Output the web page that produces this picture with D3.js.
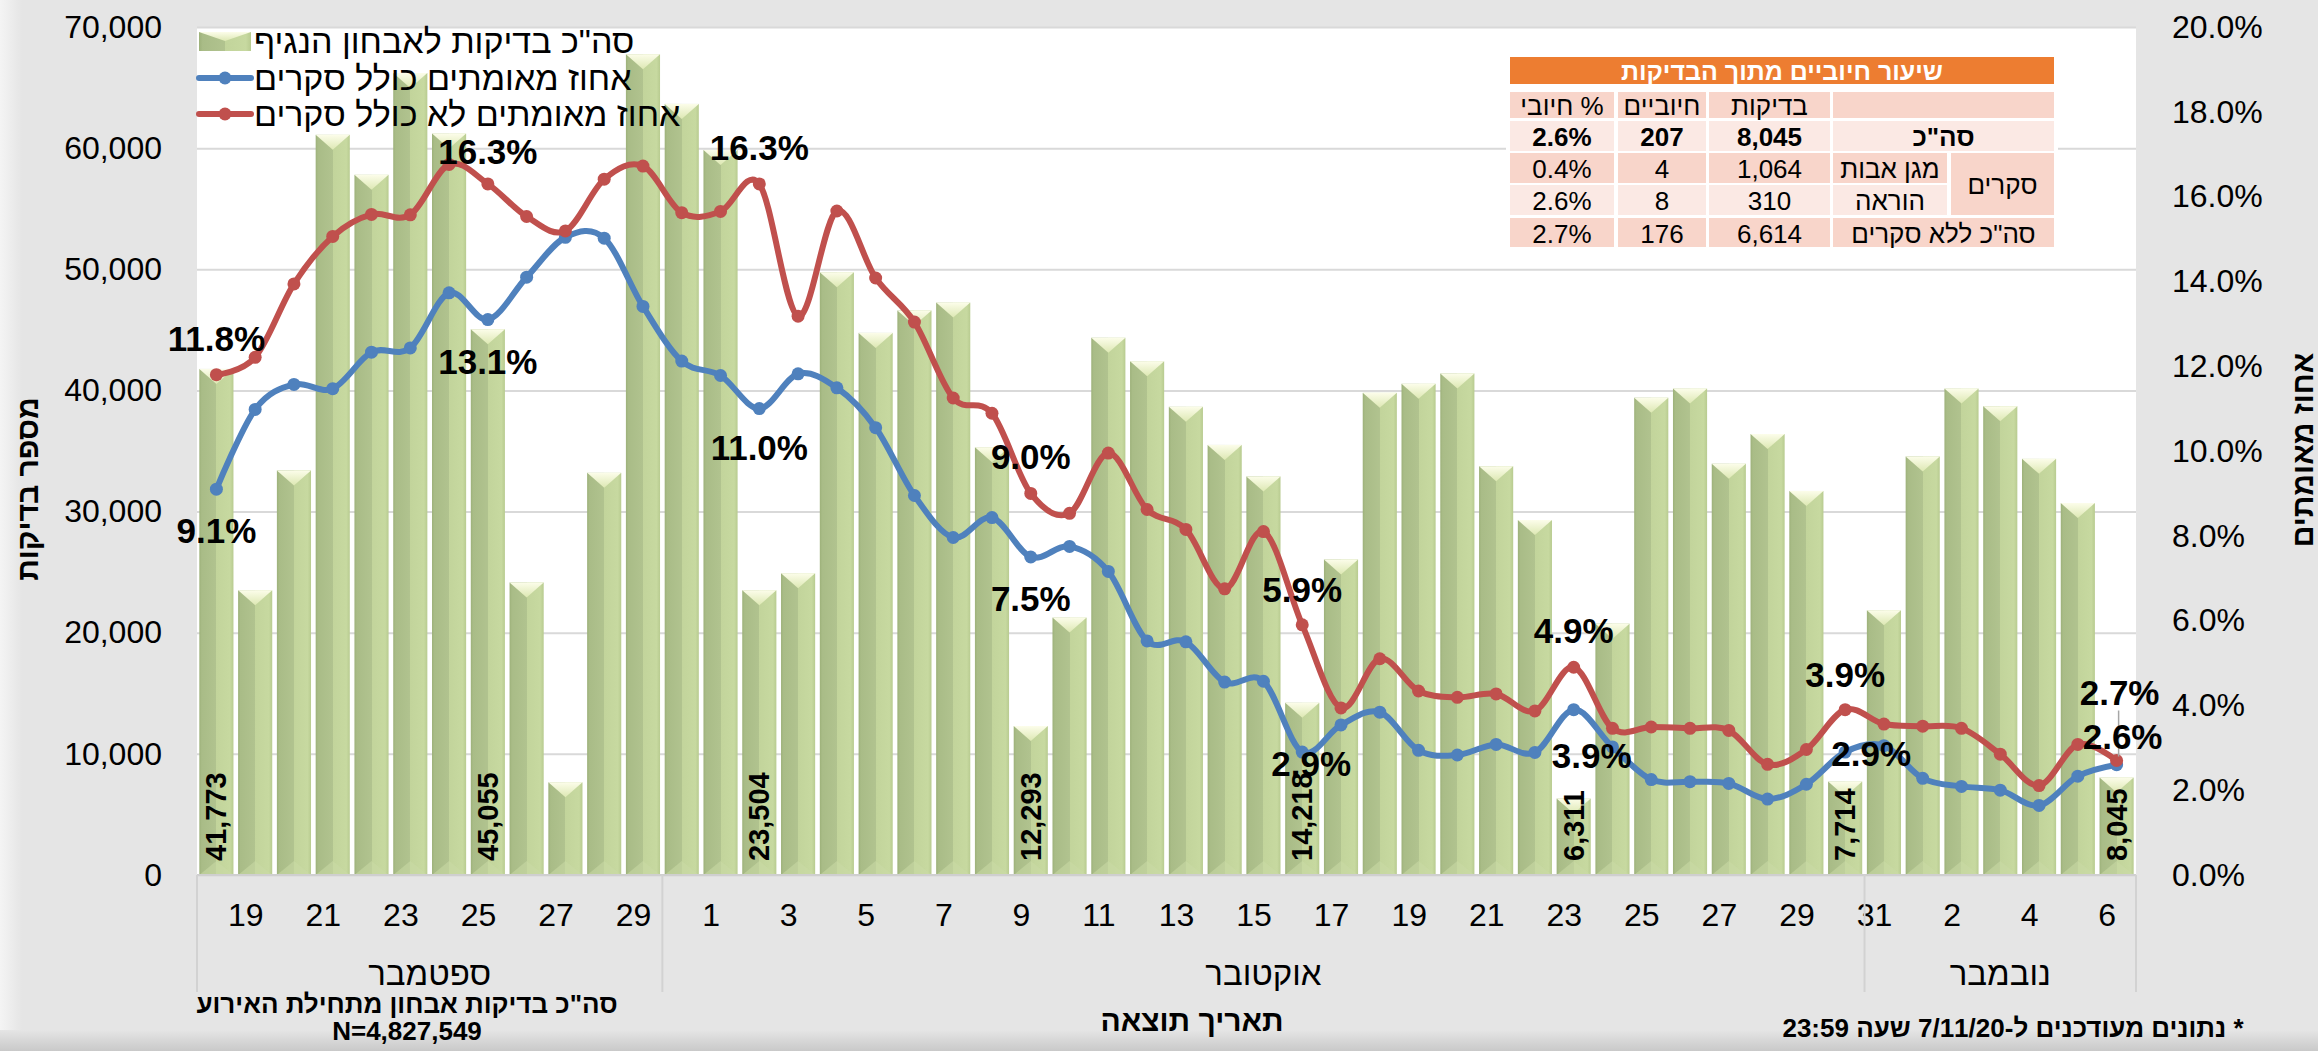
<!DOCTYPE html>
<html>
<head>
<meta charset="utf-8">
<script src="https://cdn.jsdelivr.net/npm/d3@7"></script>
<style>
  html, body { margin: 0; padding: 0; background: #e5e5e5; }
  svg { display: block; }
  text { font-family: "Liberation Sans", Arial, "DejaVu Sans", sans-serif; fill: #000; }
</style>
</head>
<body>
<script>
// ---- data ----
var sepDays = [19, 20, 21, 22, 23, 24, 25, 26, 27, 28, 29, 30];
var octDays = [1, 2, 3, 4, 5, 6, 7, 8, 9, 10, 11, 12, 13, 14, 15, 16, 17, 18, 19, 20,
               21, 22, 23, 24, 25, 26, 27, 28, 29, 30, 31];
var novDays = [1, 2, 3, 4, 5, 6, 7];
var monthNames = ["ספטמבר", "אוקטובר", "נובמבר"];

// total tests per day
var tests = [41773, 23500, 33400, 61100, 57800, 66200, 61200, 45055, 24150, 7650,
             33200, 67750, 63650, 59850, 23504, 24900, 49750, 44750, 46600, 47250,
             35300, 12293, 21250, 44350, 42400, 38650, 35500, 32900, 14218, 26050,
             39800, 40550, 41400, 33750, 29300, 6311, 20750, 39400, 40150, 33950,
             36400, 31700, 7714, 21850, 34550, 40150, 38700, 34350, 30700, 8045];

// % positive incl. school surveys (blue)
var pctWithSurveys = [9.1, 10.98, 11.57, 11.47, 12.33, 12.43, 13.73, 13.1, 14.1, 15.04,
                      15.02, 13.41, 12.12, 11.78, 11.0, 11.82, 11.49, 10.55, 8.95, 7.96,
                      8.43, 7.5, 7.75, 7.16, 5.52, 5.5, 4.55, 4.57, 2.9, 3.54,
                      3.84, 2.94, 2.83, 3.08, 2.89, 3.9, 3.02, 2.25, 2.2, 2.16,
                      1.79, 2.14, 2.9, 3.05, 2.28, 2.09, 2.0, 1.64, 2.33, 2.6];

// % positive excl. school surveys (red)
var pctNoSurveys = [11.8, 12.21, 13.94, 15.06, 15.58, 15.57, 16.76, 16.3, 15.53, 15.19,
                    16.41, 16.72, 15.62, 15.65, 16.3, 13.18, 15.66, 14.08, 13.04, 11.25,
                    10.89, 9.0, 8.53, 9.95, 8.62, 8.15, 6.75, 8.1, 5.9, 3.94,
                    5.1, 4.34, 4.19, 4.27, 3.87, 4.9, 3.46, 3.49, 3.46, 3.41,
                    2.61, 2.96, 3.9, 3.56, 3.51, 3.46, 2.85, 2.11, 3.08, 2.7];

var leftTicks = [0, 10000, 20000, 30000, 40000, 50000, 60000, 70000];
var rightTicks = [0, 2, 4, 6, 8, 10, 12, 14, 16, 18, 20];

// table of the last day
var tableTitle = "שיעור חיוביים מתוך הבדיקות";
var tableHead = ["% חיובי", "חיוביים", "בדיקות", ""];
var tableRowNames = ['סה"כ', "מגן אבות", "הוראה", 'סה"כ ללא סקרים'];
var tableTests = [8045, 1064, 310, 6614];
var tablePositives = [207, 4, 8, 176];
var totalSinceStart = 4827549;

var legendNames = ['סה"כ בדיקות לאבחון הנגיף', "אחוז מאומתים כולל סקרים", "אחוז מאומתים לא כולל סקרים"];

// ---- layout ----
var W = 2318, H = 1051;
var plot = {left: 197, right: 2136, top: 27, bottom: 875};
var blue = "#4f81bd", red = "#c0504d";

var days = sepDays.concat(octDays, novDays);
var idx = d3.range(days.length);

var svg = d3.select("body").append("svg")
    .attr("width", W)
    .attr("height", H);

var defs = svg.append("defs");
function grad(id, x2, y2, stops) {
  var g = defs.append("linearGradient").attr("id", id)
    .attr("x1", 0).attr("y1", 0).attr("x2", x2).attr("y2", y2);
  stops.forEach(function(s) {
    g.append("stop").attr("offset", s[0]).attr("stop-color", s[1]);
  });
}
grad("barGrad", 1, 0, [[0, "#9db17a"], [0.07, "#a9bc87"], [0.5, "#b1c38f"], [0.5, "#c2d49b"], [0.9, "#c7d9a0"], [1, "#b8cb90"]]);
grad("capGrad", 0, 1, [[0, "#fcfdea"], [1, "#dde8b3"]]);
grad("bottomGrad", 0, 1, [[0, "#e5e5e5"], [1, "#c9c9c9"]]);
grad("leftGrad", 1, 0, [[0, "#f4f4f4"], [1, "#e5e5e5"]]);

// background
svg.append("rect").attr("width", W).attr("height", H).attr("fill", "#e5e5e5");
svg.append("rect").attr("x", 0).attr("y", 0).attr("width", 22).attr("height", H).attr("fill", "url(#leftGrad)");
svg.append("rect").attr("x", 0).attr("y", 1030).attr("width", W).attr("height", 21).attr("fill", "url(#bottomGrad)");

// plot area
svg.append("rect")
  .attr("x", plot.left).attr("y", plot.top)
  .attr("width", plot.right - plot.left).attr("height", plot.bottom - plot.top)
  .attr("fill", "#fff");

// scales
var x = d3.scaleBand().domain(idx).range([plot.left, plot.right]).paddingInner(0.12).paddingOuter(0.06);
var bw = x.bandwidth();
var cx = function(i) { return x(i) + bw / 2; };
var boundary = function(i) { return x(i) - x.step() * 0.06; };
var yL = d3.scaleLinear().domain([0, 70000]).range([plot.bottom, plot.top]);
var yR = d3.scaleLinear().domain([0, 20]).range([plot.bottom, plot.top]);

// gridlines
svg.append("g")
  .attr("transform", "translate(" + plot.left + ",0)")
  .call(d3.axisLeft(yL).tickValues(leftTicks).tickSize(-(plot.right - plot.left)).tickFormat(""))
  .call(function(g) { g.select(".domain").remove(); })
  .selectAll("line").attr("stroke", "#d9d9d9").attr("stroke-width", 2);

// left axis
var axL = svg.append("g")
  .attr("transform", "translate(" + plot.left + ",0)")
  .call(d3.axisLeft(yL).tickValues(leftTicks).tickSize(0).tickPadding(35).tickFormat(d3.format(",")));
axL.select(".domain").remove();
axL.selectAll("text").attr("font-size", 32).attr("font-family", "Liberation Sans, Arial, sans-serif").attr("fill", "#1a1a1a");

// right axis
var axR = svg.append("g")
  .attr("transform", "translate(" + plot.right + ",0)")
  .call(d3.axisRight(yR).tickValues(rightTicks).tickSize(0).tickPadding(36)
    .tickFormat(function(d) { return d.toFixed(1) + "%"; }));
axR.select(".domain").remove();
axR.selectAll("text").attr("font-size", 32).attr("font-family", "Liberation Sans, Arial, sans-serif").attr("fill", "#1a1a1a");

// bars
var bars = svg.append("g").selectAll("g").data(tests).join("g");
bars.append("rect")
  .attr("x", function(d, i) { return x(i); })
  .attr("y", function(d) { return yL(d); })
  .attr("width", bw)
  .attr("height", function(d) { return yL(0) - yL(d); })
  .attr("fill", "url(#barGrad)");
bars.append("path")
  .attr("d", function(d, i) {
    var x0 = x(i), t = yL(d);
    return "M" + x0 + "," + t + "L" + (x0 + bw) + "," + t + "L" + (x0 + bw / 2) + "," + (t + 15) + "Z";
  })
  .attr("fill", "url(#capGrad)");
bars.append("path")
  .attr("d", function(d, i) {
    var x0 = x(i), b = yL(0);
    return "M" + x0 + "," + b + "L" + (x0 + bw / 2) + "," + (b - 14) + "L" + (x0 + bw) + "," + b + "Z";
  })
  .attr("fill", "#cadba5").attr("opacity", 0.55);

// baseline
svg.append("line")
  .attr("x1", plot.left).attr("x2", plot.right)
  .attr("y1", plot.bottom).attr("y2", plot.bottom)
  .attr("stroke", "#cfcfcf").attr("stroke-width", 2);

// x labels: every 2nd day
svg.append("g").selectAll("text")
  .data(idx.filter(function(i) { return i % 2 === 0; }))
  .join("text")
    .attr("x", function(i) { return cx(i) + x.step() / 2 + 10; })
    .attr("y", 915)
    .attr("text-anchor", "middle")
    .attr("dominant-baseline", "central")
    .attr("font-size", 32)
    .attr("fill", "#1a1a1a")
    .text(function(i) { return days[i]; });

// month groups
var monthStart = [0, sepDays.length, sepDays.length + octDays.length, days.length];
svg.append("g").selectAll("line")
  .data(monthStart)
  .join("line")
    .attr("x1", function(s) { return s < days.length ? boundary(s) : plot.right; })
    .attr("x2", function(s) { return s < days.length ? boundary(s) : plot.right; })
    .attr("y1", plot.bottom).attr("y2", 992)
    .attr("stroke", "#d2d2d2").attr("stroke-width", 2);
svg.append("g").selectAll("text")
  .data(monthNames)
  .join("text")
    .attr("x", function(m, k) {
      var a = boundary(monthStart[k]);
      var b = monthStart[k + 1] < days.length ? boundary(monthStart[k + 1]) : plot.right;
      return (a + b) / 2;
    })
    .attr("y", 973)
    .attr("text-anchor", "middle")
    .attr("dominant-baseline", "central")
    .attr("font-size", 33)
    .attr("fill", "#1a1a1a")
    .text(function(m) { return m; });

// lines
var line = d3.line()
  .x(function(d, i) { return cx(i); })
  .y(function(d) { return yR(d); })
  .curve(d3.curveCardinal.tension(0));

[[pctWithSurveys, blue], [pctNoSurveys, red]].forEach(function(s) {
  svg.append("path").datum(s[0])
    .attr("d", line)
    .attr("fill", "none")
    .attr("stroke", s[1])
    .attr("stroke-width", 6)
    .attr("stroke-linecap", "round");
  svg.append("g").selectAll("circle").data(s[0]).join("circle")
    .attr("cx", function(d, i) { return cx(i); })
    .attr("cy", function(d) { return yR(d); })
    .attr("r", 6.5)
    .attr("fill", s[1]);
});

// weekly data labels (every 7th day)
var labeled = idx.filter(function(i) { return i % 7 === 0; });
// nudges [dx, dy] for each labelled point
var redNudge = [[0, -36], [0, -32], [0, -36], [0, -37], [0, -35], [0, -37], [0, -35], [3, -68]];
var blueNudge = [[0, 41], [0, 42], [0, 39], [0, 41], [9, 11], [18, 46], [26, 1], [6, -28]];
var fmtPct = function(v) { return v.toFixed(1) + "%"; };

// leader line for the last label
var last = days.length - 1;
svg.append("line")
  .attr("x1", cx(last) + 2).attr("x2", cx(last) + 2)
  .attr("y1", yR(pctNoSurveys[last]) + redNudge[7][1] + 18)
  .attr("y2", yR(pctNoSurveys[last]) - 4)
  .attr("stroke", "#a6a6a6").attr("stroke-width", 1.5);

labeled.forEach(function(i, k) {
  [[pctNoSurveys, redNudge], [pctWithSurveys, blueNudge]].forEach(function(s) {
    svg.append("text")
      .attr("x", cx(i) + s[1][k][0])
      .attr("y", yR(s[0][i]) + s[1][k][1])
      .attr("text-anchor", "middle")
      .attr("dominant-baseline", "central")
      .attr("font-weight", "bold")
      .attr("font-size", 35)
      .text(fmtPct(s[0][i]));
  });
  svg.append("text")
    .attr("transform", "translate(" + cx(i) + "," + (plot.bottom - 14) + ") rotate(-90)")
    .attr("text-anchor", "start")
    .attr("dominant-baseline", "central")
    .attr("font-weight", "bold")
    .attr("font-size", 29)
    .text(d3.format(",")(tests[i]));
});

// legend
var legendY = [41, 78, 114];
var legend = svg.append("g");
legend.append("rect").attr("x", 199).attr("y", 32).attr("width", 52).attr("height", 19).attr("fill", "url(#barGrad)");
legend.append("path").attr("d", "M199,32L251,32L225,41Z").attr("fill", "url(#capGrad)");
[[blue, legendY[1]], [red, legendY[2]]].forEach(function(s) {
  legend.append("line").attr("x1", 199).attr("x2", 251).attr("y1", s[1]).attr("y2", s[1])
    .attr("stroke", s[0]).attr("stroke-width", 6).attr("stroke-linecap", "round");
  legend.append("circle").attr("cx", 225).attr("cy", s[1]).attr("r", 6.5).attr("fill", s[0]);
});
legend.selectAll("text").data(legendNames).join("text")
  .attr("x", 254)
  .attr("y", function(d, i) { return legendY[i]; })
  .attr("dominant-baseline", "central")
  .attr("font-size", 34)
  .text(function(d) { return d; });

// table
var tbl = svg.append("g");
var colX = [[1510, 1614], [1618, 1706], [1709, 1830], [1833, 2054]];
var rowY = [[92, 118], [121, 151], [153, 183], [185, 215], [218, 247]];
var dark = "#f8d5ca", light = "#fbe9e4";
tbl.append("rect").attr("x", 1506).attr("y", 88).attr("width", 552).attr("height", 163).attr("fill", "#fff");
tbl.append("rect").attr("x", 1510).attr("y", 57).attr("width", 544).attr("height", 27).attr("fill", "#ed7d31");
tbl.append("text").attr("x", 1782).attr("y", 71).attr("text-anchor", "middle").attr("dominant-baseline", "central")
  .attr("font-size", 25).attr("font-weight", "bold").style("fill", "#fff").text(tableTitle);

function cell(x0, x1, y0, y1, fill, txt, bold) {
  tbl.append("rect").attr("x", x0).attr("y", y0).attr("width", x1 - x0).attr("height", y1 - y0).attr("fill", fill);
  if (txt) {
    tbl.append("text").attr("x", (x0 + x1) / 2).attr("y", (y0 + y1) / 2 + 1)
      .attr("text-anchor", "middle").attr("dominant-baseline", "central")
      .attr("direction", "rtl")
      .attr("font-size", 26).attr("font-weight", bold ? "bold" : "normal")
      .text(txt);
  }
}
tableHead.forEach(function(t, c) { cell(colX[c][0], colX[c][1], rowY[0][0], rowY[0][1], dark, t); });
var rowFill = [light, dark, light, dark];
tableTests.forEach(function(n, r) {
  var vals = [(tablePositives[r] / n * 100).toFixed(1) + "%", d3.format(",")(tablePositives[r]), d3.format(",")(n)];
  var ry = rowY[r + 1];
  vals.forEach(function(v, c) { cell(colX[c][0], colX[c][1], ry[0], ry[1], rowFill[r], v, r === 0); });
  if (r === 1 || r === 2) {
    cell(1833, 1947, ry[0], ry[1], rowFill[r], tableRowNames[r]);
  } else {
    cell(colX[3][0], colX[3][1], ry[0], ry[1], rowFill[r], tableRowNames[r], r === 0);
  }
});
cell(1951, 2054, rowY[2][0], rowY[3][1], dark, "סקרים");

// axis titles
svg.append("text")
  .attr("transform", "translate(27,489) rotate(-90)")
  .attr("text-anchor", "middle").attr("dominant-baseline", "central")
  .attr("font-size", 30).attr("font-weight", "bold")
  .text("מספר בדיקות");
svg.append("text")
  .attr("transform", "translate(2302,450) rotate(-90)")
  .attr("text-anchor", "middle").attr("dominant-baseline", "central")
  .attr("font-size", 30).attr("font-weight", "bold")
  .text("אחוז מאומתים");
svg.append("text")
  .attr("x", 1192).attr("y", 1020)
  .attr("text-anchor", "middle").attr("dominant-baseline", "central")
  .attr("font-size", 30).attr("font-weight", "bold")
  .text("תאריך תוצאה");

// footnotes
svg.append("text")
  .attr("x", 407).attr("y", 1004)
  .attr("text-anchor", "middle").attr("dominant-baseline", "central")
  .attr("font-size", 26).attr("font-weight", "bold")
  .text('סה"כ בדיקות אבחון מתחילת האירוע');
svg.append("text")
  .attr("x", 407).attr("y", 1031)
  .attr("text-anchor", "middle").attr("dominant-baseline", "central")
  .attr("font-size", 26).attr("font-weight", "bold")
  .text("N=" + d3.format(",")(totalSinceStart));
svg.append("text")
  .attr("x", 2013).attr("y", 1028)
  .attr("text-anchor", "middle").attr("dominant-baseline", "central")
  .attr("direction", "rtl")
  .attr("font-size", 26).attr("font-weight", "bold")
  .text("* נתונים מעודכנים ל-7/11/20 שעה 23:59");
</script>
</body>
</html>
